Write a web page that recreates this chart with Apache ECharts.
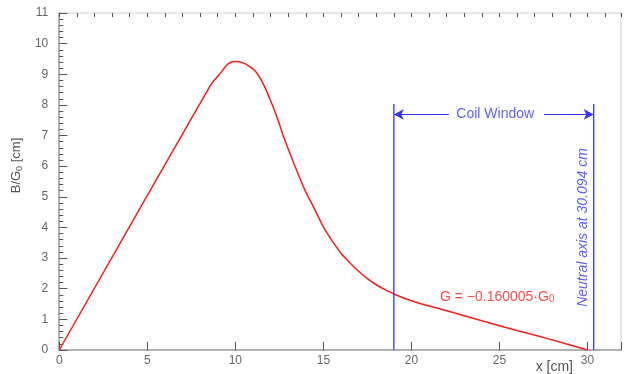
<!DOCTYPE html>
<html><head><meta charset="utf-8">
<script src="https://cdn.jsdelivr.net/npm/echarts@6/dist/echarts.min.js"></script>
<style>html,body{margin:0;padding:0;background:#fff}#c{width:627px;height:374px}</style>
</head><body><div id="c"></div>
<script>
// curve B/G0 vs x
const curveX = [0, 8.6, 9.1, 9.6, 10.0, 10.4, 10.8, 11.2, 11.7, 12.3, 12.8, 13.4, 13.95, 14.5, 15.0, 15.5, 16.0, 16.5, 17.0, 17.5, 18.0, 18.5, 19.0, 20.0, 21.5, 23.0, 25.2, 28.0, 30.0];
const curveY = [0, 8.65, 9.0, 9.35, 9.42, 9.38, 9.26, 9.06, 8.55, 7.7, 6.87, 5.98, 5.22, 4.6, 4.02, 3.56, 3.16, 2.85, 2.57, 2.33, 2.13, 1.97, 1.83, 1.61, 1.36, 1.12, 0.76, 0.33, 0.0];
// coil window markers
const coilLeftX = 19.0;
const coilRightX = 30.35;
const coilTopY = 8.03;
const arrowY = 7.69;
const arrowGapLeft = 22.13;
const arrowGapRight = 27.52;
// annotation texts and anchors
const coilText = 'Coil Window';
const coilTextPos = [24.76, 7.69];
const gText = 'G = \u22120.160005\u00b7G';
const gTextPos = [24.87, 1.74];
const neutralText = 'Neutral axis at 30.094 cm';
const neutralTextPos = [29.72, 4.0];
// axes
const xMin = 0, xMax = 31.9, xMajor = 5, xMinor = 1;
const yMin = 0, yMax = 11, yMajor = 1;

const RED = '#ff1a1a', BLUE = '#3535ff', FONT = "'Liberation Sans', Arial, sans-serif";
const chart = echarts.init(document.getElementById('c'));
const curve = curveX.map((x, i) => [x, curveY[i]]);
const axisCommon = {type: 'value', splitLine: {show: false}};
chart.setOption({
  animation: false,
  textStyle: {fontFamily: FONT},
  grid: {left: 56, right: 6, top: 13, bottom: 24, show: true, borderColor: '#cfcfcf', borderWidth: 1, containLabel: false},
  xAxis: [
    Object.assign({}, axisCommon, {
      min: xMin, max: xMax, interval: xMajor,
      axisLine: {lineStyle: {color: '#a0a0a0', width: 1.5}},
      axisTick: {inside: true, length: 8, lineStyle: {color: '#555'}},
      axisLabel: {color: '#666', fontSize: 12, margin: 5, formatter: v => (v % xMajor === 0 ? String(v) : '')},
      name: 'x [cm]', nameLocation: 'end', nameGap: -48,
      nameTextStyle: {color: '#555', fontSize: 14, align: 'right', verticalAlign: 'top', padding: [10, 0, 0, 0]}
    }),
    Object.assign({}, axisCommon, {
      min: xMin, max: xMax, interval: xMinor,
      axisLine: {show: false},
      axisTick: {inside: true, length: 4, lineStyle: {color: '#555'}},
      axisLabel: {show: false}
    })
  ],
  yAxis: Object.assign({}, axisCommon, {
    min: yMin, max: yMax, interval: yMajor,
    axisLine: {lineStyle: {color: '#a0a0a0', width: 1.5}},
    axisTick: {inside: true, length: 8, lineStyle: {color: '#555'}},
    minorTick: {show: true, splitNumber: 5, length: 4, lineStyle: {color: '#555'}},
    axisLabel: {color: '#666', fontSize: 12, margin: 11},
    name: 'B/G{s|0} [cm]', nameLocation: 'middle', nameGap: 28,
    nameTextStyle: {color: '#555', fontSize: 13, padding: [0, 0, 0, 32], lineHeight: 16,
      rich: {s: {fontSize: 9, verticalAlign: 'bottom', lineHeight: 15, color: '#555'}}}
  }),
  series: [
    {type: 'line', data: curve, showSymbol: false, smooth: 0.25, lineStyle: {color: RED, width: 1.5}, z: 3},
    {type: 'line', data: [[coilLeftX, 0], [coilLeftX, coilTopY]], showSymbol: false, lineStyle: {color: BLUE, width: 1.3}},
    {type: 'line', data: [[coilRightX, 0], [coilRightX, coilTopY]], showSymbol: false, lineStyle: {color: BLUE, width: 1.3},
      markLine: {silent: true, symbol: ['none', 'arrow'], symbolSize: [8, 10], label: {show: false},
        lineStyle: {color: BLUE, width: 1.2, type: 'solid'},
        data: [
          [{coord: [arrowGapLeft, arrowY]}, {coord: [coilLeftX, arrowY]}],
          [{coord: [arrowGapRight, arrowY]}, {coord: [coilRightX, arrowY]}]
        ]}},
    {type: 'scatter', symbolSize: 0, silent: true,
      data: [
        {value: coilTextPos, label: {show: true, position: 'inside', formatter: coilText, color: BLUE, fontSize: 14}},
        {value: gTextPos, label: {show: true, position: 'inside', formatter: '{m|' + gText + '}{s|0}', color: RED,
          rich: {m: {fontSize: 14, color: RED, lineHeight: 16}, s: {fontSize: 10, color: RED, verticalAlign: 'bottom', lineHeight: 15}}}},
        {value: neutralTextPos, label: {show: true, position: 'inside', rotate: 90, formatter: neutralText, color: BLUE, fontSize: 14, fontStyle: 'italic'}}
      ]}
  ]
});
</script></body></html>
